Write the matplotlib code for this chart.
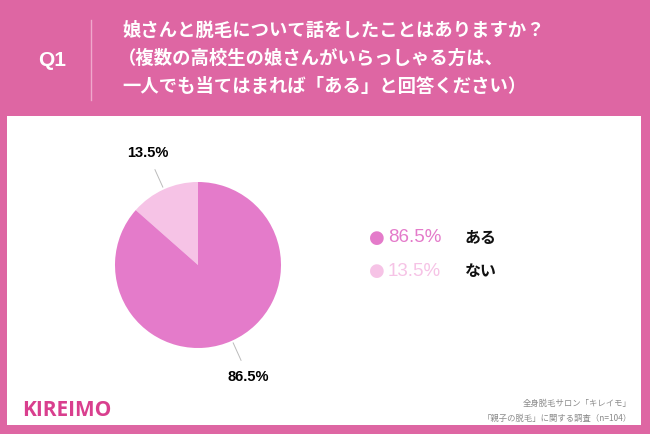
import numpy as np
import matplotlib.pyplot as plt
from matplotlib.patches import Rectangle

# データ
labels = ['ない', 'ある']
values = [13.5, 86.5]
colors = ['#F6C3E6', '#E47BCA']
legend_order = [1, 0]  # 凡例は「ある」が上

title_lines = ['娘さんと脱毛について話をしたことはありますか？',
               '（複数の高校生の娘さんがいらっしゃる方は、',
               '一人でも当てはまれば「ある」と回答ください）']
source_lines = ['全身脱毛サロン「キレイモ」',
                '「親子の脱毛」に関する調査（n=104）']

JP = ['Noto Sans CJK JP', 'DejaVu Sans']
NUM = ['Liberation Sans', 'DejaVu Sans']
W, H = 650, 434
pink = '#DE66A3'

fig = plt.figure(figsize=(W / 100, H / 100), dpi=100, facecolor=pink)

# 白いパネル
fig.patches.append(Rectangle((7 / W, (H - 425) / H), (641 - 7) / W, (425 - 116) / H,
                             transform=fig.transFigure, facecolor='white',
                             edgecolor='none', zorder=-5))

# 見出し
fig.text(52 / W, 1 - 60 / H, 'Q1', color='white', fontsize=15, fontweight='bold',
         family=NUM, ha='center', va='center')
fig.add_artist(plt.Line2D([91 / W, 91 / W], [1 - 20 / H, 1 - 100 / H],
                          transform=fig.transFigure, color='#F0A8CC', lw=1))
for i, line in enumerate(title_lines):
    x = 122 if i != 1 else 118
    fig.text(x / W, 1 - (30 + 28.5 * i) / H, line, color='white', fontsize=13.2,
             fontweight='bold', family=JP, ha='left', va='center')

# 円グラフ
cx, cy, r = 198, 265, 83
ax = fig.add_axes([(cx - r) / W, (H - cy - r) / H, 2 * r / W, 2 * r / H])
ax.patch.set_visible(False)
wedges, _ = ax.pie(values, colors=colors, startangle=90, counterclock=True,
                   wedgeprops=dict(linewidth=0))
ax.set_xlim(-1, 1)
ax.set_ylim(-1, 1)
ax.axis('off')

for w, v in zip(wedges, values):
    ang = np.deg2rad((w.theta1 + w.theta2) / 2)
    ax.plot([1.03 * np.cos(ang), 1.26 * np.cos(ang)],
            [1.03 * np.sin(ang), 1.26 * np.sin(ang)],
            color='#BBBBBB', lw=0.7, clip_on=False)
    ax.text(1.48 * np.cos(ang), 1.48 * np.sin(ang), f'{v}%', fontsize=10.5,
            fontweight='bold', family=NUM, ha='center', va='center', clip_on=False)

# 凡例
for row, idx in enumerate(legend_order):
    y = 1 - (238 + 33 * row) / H
    fig.text(377 / W, y, '●', color=colors[idx], fontsize=13, family=['DejaVu Sans'],
             ha='center', va='center')
    fig.text(388 / W, y, f'{values[idx]}%', color=colors[idx], fontsize=13.5,
             family=NUM, ha='left', va='center')
    fig.text(465 / W, y, labels[idx], color='#111111', fontsize=11.5,
             fontweight='bold', family=JP, ha='left', va='center')

# ロゴ・出典
fig.text(22 / W, 1 - 410 / H, 'KIREIMO', color='#D93F8E', fontsize=15,
         fontweight='bold', family=['Open Sans', 'DejaVu Sans'], ha='left', va='center')
for i, line in enumerate(source_lines):
    fig.text(632 / W, 1 - (403 + 15 * i) / H, line, color='#8A8A8A', fontsize=6,
             family=JP, ha='right', va='center')

fig.savefig('out.png', dpi=100, facecolor=pink)
